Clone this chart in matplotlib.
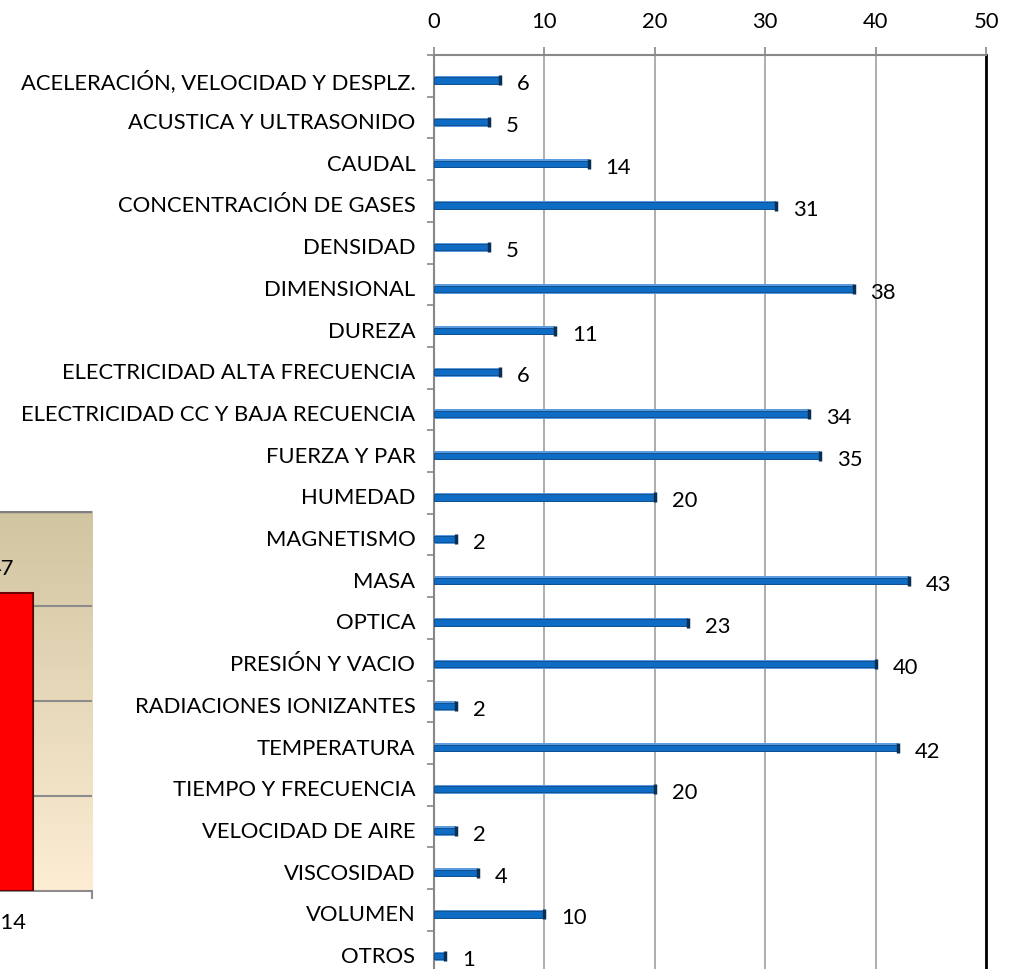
import numpy as np
import matplotlib
matplotlib.use("Agg")
import matplotlib.pyplot as plt

plt.rcParams['font.family'] = ['Lato', 'DejaVu Sans']

categorias = ['ACELERACIÓN, VELOCIDAD Y DESPLZ.', 'ACUSTICA Y ULTRASONIDO', 'CAUDAL',
              'CONCENTRACIÓN DE GASES', 'DENSIDAD', 'DIMENSIONAL', 'DUREZA',
              'ELECTRICIDAD ALTA FRECUENCIA', 'ELECTRICIDAD CC Y BAJA RECUENCIA',
              'FUERZA Y PAR', 'HUMEDAD', 'MAGNETISMO', 'MASA', 'OPTICA',
              'PRESIÓN Y VACIO', 'RADIACIONES IONIZANTES', 'TEMPERATURA',
              'TIEMPO Y FRECUENCIA', 'VELOCIDAD DE AIRE', 'VISCOSIDAD', 'VOLUMEN', 'OTROS']
valores = [6, 5, 14, 31, 5, 38, 11, 6, 34, 35, 20, 2, 43, 23, 40, 2, 42, 20, 2, 4, 10, 1]
xticks = [0, 10, 20, 30, 40, 50]

# partial chart at the left edge
anios = ['2014']
total = [47]

fs = 15.8
W, H = 1013, 970
fig = plt.figure(figsize=(W / 100, H / 100), dpi=100)

# ---- main horizontal bar chart
top, step = 56, 41.7
n = len(categorias)
ax = fig.add_axes([434 / W, 1 - (top + n * step) / H, 552 / W, n * step / H])
y = np.arange(n)
off = 0.11
ax.barh(y + off, valores, height=0.22, color='#5b9be0', linewidth=0, zorder=2)
ax.barh(y + off, valores, height=0.15, color='#0f6cc4', edgecolor='#0b4a86', linewidth=0.6, zorder=3)
ax.plot(valores, y + off, ls='none', marker='|', ms=7, mew=2.5, color='#0a2f55', zorder=4)
for yi, v in zip(y, valores):
    ax.annotate(str(v), (v, yi + off), xytext=(17, -3), textcoords='offset pixels',
                ha='left', va='center', fontsize=fs, color='black')

ax.set_xlim(0, 50)
ax.set_ylim(n - 0.5, -0.5)
ax.xaxis.tick_top()
ax.set_xticks(xticks)
ax.tick_params(axis='x', length=6, color='#888888', width=1.2, labelsize=fs, pad=11)
ax.set_yticks(y + 0.06)
ax.set_yticklabels(categorias, fontsize=fs)
ax.tick_params(axis='y', which='major', length=0, pad=13.5)
ax.set_yticks(np.arange(n + 1) - 0.5, minor=True)
ax.tick_params(axis='y', which='minor', length=5, color='#888888', width=1.2)
ax.grid(axis='x', color='#a0a0a0', lw=1.2, zorder=1)
for s in ['top', 'left']:
    ax.spines[s].set_color('#888888')
    ax.spines[s].set_linewidth(1.5)
ax.spines['bottom'].set_visible(False)
ax.spines['right'].set_color('black')
ax.spines['right'].set_linewidth(2)

# ---- partial chart on the left
ax2 = fig.add_axes([-92 / W, 1 - 892 / H, 184 / W, 380 / H])
grad = np.linspace(0, 1, 256).reshape(-1, 1, 1)
c_top = np.array([0.82, 0.77, 0.63])
c_bot = np.array([0.99, 0.93, 0.83])
img = c_top + (c_bot - c_top) * grad
ax2.imshow(img, extent=[-1, 1, 0, 60], origin='upper', aspect='auto', zorder=0)
ax2.set_xlim(-1, 1)
ax2.set_ylim(0, 60)
ax2.bar([0], total, width=0.72, color='#ff0000', edgecolor='#6a0000', linewidth=1.5, zorder=3)
ax2.text(0.02, total[0] + 4, str(total[0]), ha='center', va='center', fontsize=fs, zorder=4)
for g in [15, 30, 45]:
    ax2.axhline(g, color='#8c8c8c', lw=1.5, zorder=1)
ax2.axhline(60, color='#7f7f7f', lw=2.5, zorder=2)
ax2.set_yticks([])
ax2.set_xticks([0])
ax2.set_xticklabels(anios, fontsize=fs)
ax2.tick_params(axis='x', length=0, pad=15)
ax2.set_xticks([1], minor=True)
ax2.tick_params(axis='x', which='minor', length=6, color='#8c8c8c', width=1.5)
for s in ['top', 'left', 'right']:
    ax2.spines[s].set_visible(False)
ax2.spines['bottom'].set_color('#8c8c8c')
ax2.spines['bottom'].set_linewidth(1.5)

fig.savefig('out.png', dpi=100)
